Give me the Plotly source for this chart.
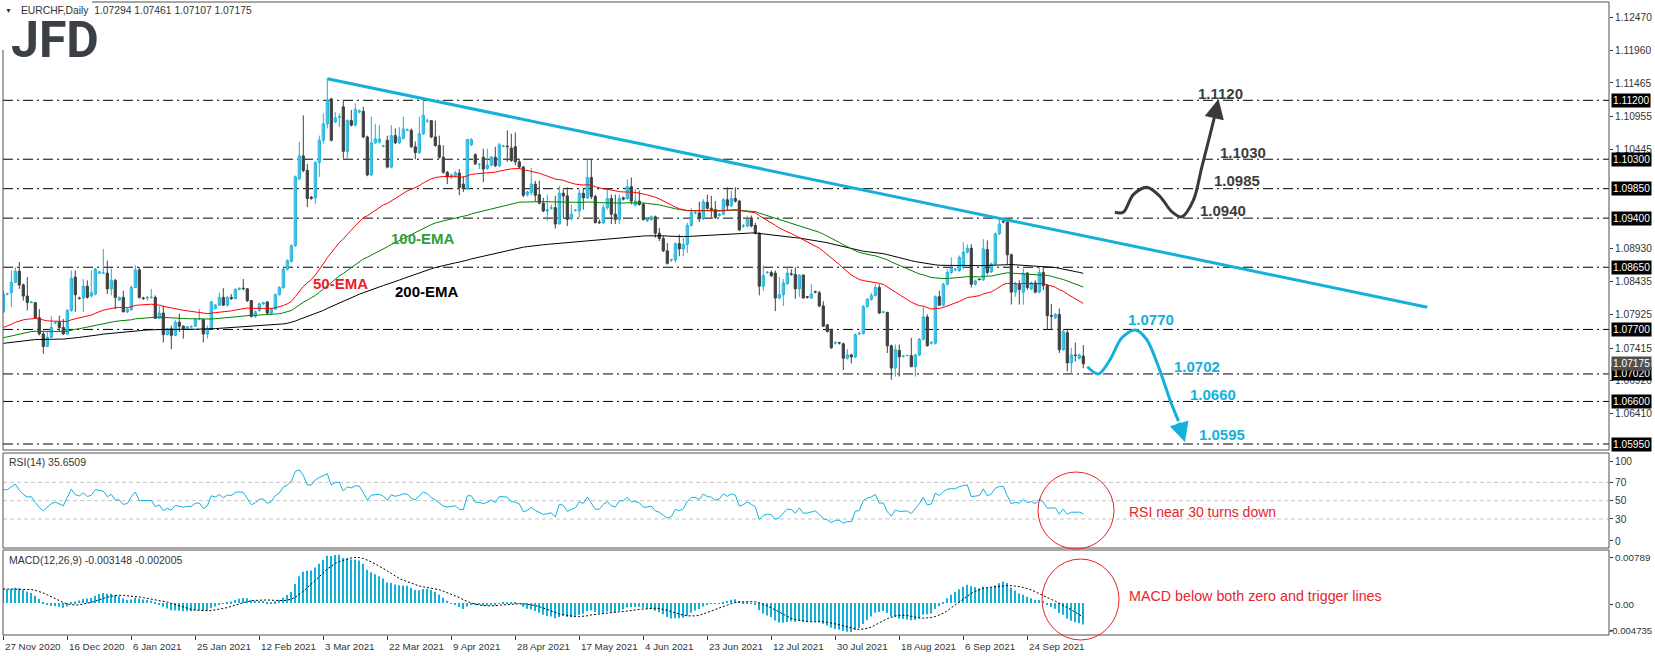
import plotly.graph_objects as go

W, H = 1655, 656

# ---------------- data ----------------
OPEN = [
 1.0797, 1.0824, 1.0826, 1.0842, 1.0859, 1.0838, 1.0821, 1.0811, 1.0811, 1.0788,
 1.0763, 1.0744, 1.0758, 1.0780, 1.0781, 1.0773, 1.0763, 1.0799, 1.0850, 1.0818,
 1.0818, 1.0836, 1.0821, 1.0824, 1.0856, 1.0856, 1.0856, 1.0832, 1.0845, 1.0815,
 1.0819, 1.0797, 1.0800, 1.0834, 1.0861, 1.0818, 1.0818, 1.0819, 1.0819, 1.0787,
 1.0795, 1.0762, 1.0771, 1.0761, 1.0781, 1.0775, 1.0772, 1.0774, 1.0775, 1.0786,
 1.0785, 1.0763, 1.0771, 1.0802, 1.0807, 1.0819, 1.0807, 1.0819, 1.0817, 1.0831,
 1.0833, 1.0832, 1.0814, 1.0790, 1.0799, 1.0809, 1.0812, 1.0795, 1.0801, 1.0823,
 1.0834, 1.0862, 1.0874, 1.0898, 1.1000, 1.1035, 1.1013, 1.0972, 1.0971, 1.1025,
 1.1059, 1.1084, 1.1122, 1.1087, 1.1094, 1.1110, 1.1042, 1.1089, 1.1082, 1.1102,
 1.1103, 1.1064, 1.1006, 1.1055, 1.1056, 1.1050, 1.1059, 1.1018, 1.1066, 1.1055,
 1.1062, 1.1074, 1.1074, 1.1049, 1.1040, 1.1069, 1.1088, 1.1089, 1.1064, 1.1051,
 1.1033, 1.1010, 1.1003, 1.1005, 1.1009, 1.0992, 1.0985, 1.1052, 1.1037, 1.1022,
 1.1033, 1.1016, 1.1021, 1.1033, 1.1020, 1.1050, 1.1050, 1.1047, 1.1049, 1.1026,
 1.1018, 1.0976, 1.0979, 1.0992, 1.0976, 1.0963, 1.0951, 1.0955, 1.0956, 1.0931,
 1.0978, 1.0974, 1.0939, 1.0952, 1.0951, 1.0978, 1.0971, 1.1002, 1.0973, 1.0934,
 1.0933, 1.0956, 1.0970, 1.0946, 1.0938, 1.0971, 1.0970, 1.0988, 1.0960, 1.0966,
 1.0961, 1.0936, 1.0938, 1.0942, 1.0917, 1.0909, 1.0890, 1.0876, 1.0876, 1.0901,
 1.0893, 1.0900, 1.0929, 1.0948, 1.0948, 1.0939, 1.0964, 1.0955, 1.0953, 1.0944,
 1.0946, 1.0968, 1.0959, 1.0970, 1.0966, 1.0928, 1.0928, 1.0938, 1.0929, 1.0917,
 1.0836, 1.0857, 1.0857, 1.0856, 1.0818, 1.0823, 1.0840, 1.0855, 1.0854, 1.0832,
 1.0853, 1.0820, 1.0818, 1.0828, 1.0826, 1.0806, 1.0777, 1.0770, 1.0749, 1.0750,
 1.0748, 1.0726, 1.0731, 1.0728, 1.0763, 1.0764, 1.0805, 1.0816, 1.0822, 1.0834,
 1.0796, 1.0796, 1.0745, 1.0711, 1.0738, 1.0729, 1.0730, 1.0730, 1.0713, 1.0731,
 1.0755, 1.0789, 1.0749, 1.0749, 1.0820, 1.0807, 1.0839, 1.0857, 1.0861, 1.0860,
 1.0865, 1.0888, 1.0894, 1.0839, 1.0847, 1.0846, 1.0892, 1.0858, 1.0870, 1.0916,
 1.0935, 1.0934, 1.0884, 1.0827, 1.0839, 1.0827, 1.0856, 1.0832, 1.0841, 1.0827,
 1.0857, 1.0837, 1.0791, 1.0788, 1.0793, 1.0739, 1.0765, 1.0719, 1.0731, 1.0726,
 1.07294]

HIGH = [
 1.0829, 1.0826, 1.0860, 1.0865, 1.0873, 1.0840, 1.0850, 1.0813, 1.0812, 1.0801,
 1.0768, 1.0766, 1.0790, 1.0782, 1.0791, 1.0786, 1.0801, 1.0860, 1.0860, 1.0820,
 1.0847, 1.0845, 1.0860, 1.0864, 1.0859, 1.0893, 1.0875, 1.0863, 1.0847, 1.0820,
 1.0829, 1.0803, 1.0837, 1.0868, 1.0865, 1.0820, 1.0821, 1.0832, 1.0822, 1.0806,
 1.0806, 1.0772, 1.0776, 1.0784, 1.0794, 1.0776, 1.0775, 1.0776, 1.0787, 1.0801,
 1.0786, 1.0776, 1.0814, 1.0809, 1.0826, 1.0833, 1.0821, 1.0824, 1.0833, 1.0834,
 1.0847, 1.0833, 1.0815, 1.0799, 1.0811, 1.0812, 1.0813, 1.0803, 1.0825, 1.0836,
 1.0864, 1.0877, 1.0900, 1.1005, 1.1056, 1.1097, 1.1023, 1.0974, 1.1027, 1.1066,
 1.1100, 1.1153, 1.1124, 1.1102, 1.1100, 1.1120, 1.1091, 1.1105, 1.1115, 1.1106,
 1.1110, 1.1066, 1.1095, 1.1084, 1.1082, 1.1052, 1.1066, 1.1082, 1.1077, 1.1079,
 1.1095, 1.1077, 1.1077, 1.1057, 1.1095, 1.1122, 1.1092, 1.1089, 1.1089, 1.1066,
 1.1051, 1.1012, 1.1008, 1.1012, 1.1015, 1.1004, 1.1061, 1.1062, 1.1039, 1.1024,
 1.1046, 1.1046, 1.1035, 1.1049, 1.1055, 1.1052, 1.1074, 1.1069, 1.1071, 1.1031,
 1.1020, 1.0982, 1.1017, 1.0997, 1.0997, 1.0971, 1.0976, 1.0961, 1.0974, 1.0989,
 1.0984, 1.0987, 1.0961, 1.0954, 1.0984, 1.0985, 1.1030, 1.1030, 1.0976, 1.0938,
 1.0961, 1.0985, 1.0976, 1.0976, 1.0976, 1.0973, 1.0999, 1.1002, 1.0984, 1.0982,
 1.0964, 1.0940, 1.0944, 1.0944, 1.0925, 1.0913, 1.0902, 1.0878, 1.0903, 1.0915,
 1.0910, 1.0933, 1.0955, 1.0951, 1.0965, 1.0969, 1.0976, 1.0974, 1.0966, 1.0948,
 1.0971, 1.0987, 1.0982, 1.0987, 1.0968, 1.0931, 1.0944, 1.0944, 1.0933, 1.0918,
 1.0868, 1.0859, 1.0860, 1.0860, 1.0850, 1.0847, 1.0865, 1.0862, 1.0865, 1.0854,
 1.0854, 1.0821, 1.0839, 1.0829, 1.0829, 1.0813, 1.0778, 1.0771, 1.0752, 1.0751,
 1.0750, 1.0740, 1.0733, 1.0764, 1.0767, 1.0807, 1.0818, 1.0826, 1.0839, 1.0839,
 1.0798, 1.0797, 1.0747, 1.0747, 1.0747, 1.0731, 1.0731, 1.0757, 1.0733, 1.0757,
 1.0805, 1.0793, 1.0752, 1.0822, 1.0829, 1.0841, 1.0862, 1.0880, 1.0864, 1.0883,
 1.0903, 1.0900, 1.0900, 1.0846, 1.0848, 1.0908, 1.0906, 1.0872, 1.0918, 1.0939,
 1.0940, 1.0936, 1.0886, 1.0843, 1.0845, 1.0863, 1.0858, 1.0843, 1.0845, 1.0865,
 1.0865, 1.0839, 1.0809, 1.0795, 1.0802, 1.0770, 1.0771, 1.0742, 1.0750, 1.0733,
 1.07461]

LOW = [
 1.0795, 1.0822, 1.0804, 1.0841, 1.0832, 1.0814, 1.0799, 1.0810, 1.0786, 1.0761,
 1.0733, 1.0743, 1.0757, 1.0778, 1.0766, 1.0762, 1.0762, 1.0797, 1.0797, 1.0816,
 1.0797, 1.0817, 1.0819, 1.0822, 1.0855, 1.0855, 1.0824, 1.0822, 1.0801, 1.0814,
 1.0796, 1.0795, 1.0799, 1.0833, 1.0817, 1.0815, 1.0814, 1.0817, 1.0786, 1.0786,
 1.0750, 1.0761, 1.0740, 1.0760, 1.0766, 1.0756, 1.0771, 1.0772, 1.0774, 1.0785,
 1.0750, 1.0756, 1.0770, 1.0801, 1.0806, 1.0806, 1.0805, 1.0815, 1.0816, 1.0830,
 1.0830, 1.0812, 1.0788, 1.0788, 1.0797, 1.0808, 1.0793, 1.0793, 1.0800, 1.0822,
 1.0832, 1.0860, 1.0872, 1.0896, 1.0998, 1.1010, 1.0957, 1.0968, 1.0962, 1.1003,
 1.1054, 1.1077, 1.1057, 1.1085, 1.1079, 1.1031, 1.1031, 1.1080, 1.1080, 1.1100,
 1.1062, 1.1004, 1.1004, 1.1053, 1.1054, 1.1048, 1.1016, 1.1016, 1.1053, 1.1053,
 1.1060, 1.1073, 1.1047, 1.1030, 1.1038, 1.1067, 1.1086, 1.1062, 1.1049, 1.1031,
 1.1008, 1.0992, 1.1000, 1.1002, 1.0975, 1.0980, 1.0983, 1.1050, 1.1021, 1.1015,
 1.0995, 1.1014, 1.1019, 1.1018, 1.1018, 1.1048, 1.1026, 1.1026, 1.1021, 1.1016,
 1.0972, 1.0973, 1.0975, 1.0966, 1.0961, 1.0949, 1.0936, 1.0953, 1.0924, 1.0931,
 1.0941, 1.0928, 1.0937, 1.0950, 1.0941, 1.0953, 1.0969, 1.0969, 1.0932, 1.0931,
 1.0931, 1.0953, 1.0931, 1.0931, 1.0931, 1.0967, 1.0968, 1.0961, 1.0958, 1.0959,
 1.0936, 1.0934, 1.0936, 1.0910, 1.0905, 1.0888, 1.0869, 1.0873, 1.0872, 1.0882,
 1.0882, 1.0887, 1.0927, 1.0946, 1.0934, 1.0937, 1.0953, 1.0941, 1.0939, 1.0942,
 1.0944, 1.0952, 1.0957, 1.0964, 1.0920, 1.0925, 1.0926, 1.0926, 1.0915, 1.0822,
 1.0829, 1.0855, 1.0850, 1.0798, 1.0816, 1.0806, 1.0838, 1.0852, 1.0817, 1.0820,
 1.0817, 1.0817, 1.0817, 1.0825, 1.0804, 1.0774, 1.0765, 1.0740, 1.0747, 1.0747,
 1.0708, 1.0724, 1.0718, 1.0726, 1.0761, 1.0762, 1.0803, 1.0814, 1.0820, 1.0794,
 1.0795, 1.0734, 1.0693, 1.0698, 1.0698, 1.0727, 1.0729, 1.0713, 1.0698, 1.0729,
 1.0753, 1.0744, 1.0747, 1.0747, 1.0806, 1.0805, 1.0837, 1.0855, 1.0859, 1.0858,
 1.0862, 1.0886, 1.0834, 1.0837, 1.0845, 1.0844, 1.0854, 1.0856, 1.0868, 1.0914,
 1.0932, 1.0870, 1.0808, 1.0820, 1.0808, 1.0808, 1.0830, 1.0830, 1.0825, 1.0825,
 1.0830, 1.0770, 1.0770, 1.0786, 1.0734, 1.0737, 1.0706, 1.0702, 1.0721, 1.0724,
 1.07107]

CLOSE = [
 1.0824, 1.0824, 1.0842, 1.0859, 1.0838, 1.0821, 1.0811, 1.0812, 1.0788, 1.0763,
 1.0744, 1.0758, 1.0773, 1.0780, 1.0773, 1.0763, 1.0799, 1.0848, 1.0823, 1.0817,
 1.0836, 1.0819, 1.0826, 1.0862, 1.0858, 1.0856, 1.0832, 1.0845, 1.0819, 1.0819,
 1.0797, 1.0801, 1.0834, 1.0861, 1.0819, 1.0817, 1.0819, 1.0819, 1.0787, 1.0795,
 1.0762, 1.0771, 1.0761, 1.0781, 1.0775, 1.0771, 1.0774, 1.0774, 1.0785, 1.0786,
 1.0763, 1.0771, 1.0812, 1.0807, 1.0819, 1.0807, 1.0819, 1.0817, 1.0831, 1.0833,
 1.0832, 1.0814, 1.0790, 1.0797, 1.0809, 1.0811, 1.0795, 1.0801, 1.0823, 1.0834,
 1.0862, 1.0875, 1.0898, 1.1003, 1.1035, 1.1013, 1.0970, 1.0970, 1.1025, 1.1059,
 1.1084, 1.1120, 1.1059, 1.1093, 1.1095, 1.1042, 1.1089, 1.1082, 1.1106, 1.1104,
 1.1064, 1.1006, 1.1055, 1.1061, 1.1061, 1.1050, 1.1018, 1.1066, 1.1055, 1.1064,
 1.1076, 1.1075, 1.1049, 1.1040, 1.1069, 1.1097, 1.1088, 1.1064, 1.1051, 1.1033,
 1.1010, 1.1003, 1.1006, 1.1009, 1.0987, 1.0985, 1.1060, 1.1060, 1.1023, 1.1022,
 1.1015, 1.1021, 1.1033, 1.1020, 1.1052, 1.1050, 1.1049, 1.1028, 1.1026, 1.1018,
 1.0975, 1.0980, 1.0992, 1.0975, 1.0963, 1.0951, 1.0953, 1.0956, 1.0931, 1.0978,
 1.0974, 1.0938, 1.0946, 1.0952, 1.0978, 1.0971, 1.1002, 1.0973, 1.0933, 1.0933,
 1.0956, 1.0970, 1.0946, 1.0938, 1.0970, 1.0969, 1.0988, 1.0966, 1.0966, 1.0961,
 1.0938, 1.0938, 1.0942, 1.0917, 1.0909, 1.0890, 1.0871, 1.0876, 1.0901, 1.0893,
 1.0900, 1.0929, 1.0948, 1.0948, 1.0939, 1.0965, 1.0955, 1.0953, 1.0941, 1.0946,
 1.0968, 1.0959, 1.0970, 1.0966, 1.0922, 1.0928, 1.0938, 1.0928, 1.0917, 1.0836,
 1.0852, 1.0857, 1.0852, 1.0818, 1.0823, 1.0841, 1.0856, 1.0854, 1.0832, 1.0853,
 1.0818, 1.0819, 1.0824, 1.0827, 1.0806, 1.0775, 1.0767, 1.0742, 1.0750, 1.0749,
 1.0726, 1.0731, 1.0728, 1.0762, 1.0764, 1.0805, 1.0816, 1.0822, 1.0834, 1.0795,
 1.0797, 1.0745, 1.0711, 1.0739, 1.0728, 1.0729, 1.0730, 1.0713, 1.0731, 1.0755,
 1.0789, 1.0745, 1.0750, 1.0820, 1.0807, 1.0839, 1.0857, 1.0863, 1.0862, 1.0880,
 1.0888, 1.0894, 1.0839, 1.0844, 1.0846, 1.0893, 1.0857, 1.0870, 1.0916, 1.0931,
 1.0934, 1.0884, 1.0827, 1.0839, 1.0831, 1.0856, 1.0834, 1.0841, 1.0827, 1.0857,
 1.0837, 1.0791, 1.0790, 1.0793, 1.0739, 1.0767, 1.0719, 1.0731, 1.0730, 1.0731,
 1.07175]

DATE_TICK_IDX = [0, 16, 32, 48, 64, 80, 96, 112, 128, 144, 160, 176, 192, 208, 224, 240, 256]
DATE_TICK_TEXT = ["27 Nov 2020", "16 Dec 2020", "6 Jan 2021", "25 Jan 2021", "12 Feb 2021",
                  "3 Mar 2021", "22 Mar 2021", "9 Apr 2021", "28 Apr 2021", "17 May 2021",
                  "4 Jun 2021", "23 Jun 2021", "12 Jul 2021", "30 Jul 2021", "18 Aug 2021",
                  "6 Sep 2021", "24 Sep 2021"]

PRICE_TICKS = [1.12470, 1.11960, 1.11465, 1.10955, 1.10445, 1.08930, 1.08435,
               1.07925, 1.07415, 1.06920, 1.06410]
LEVELS = [1.1120, 1.1030, 1.0985, 1.0940, 1.0865, 1.0770, 1.0702, 1.0660, 1.0595]

# indicator seeds (state before first visible bar)
EMA_SEEDS = {50: 1.0771, 100: 1.0756, 200: 1.0748}
RSI_SEED_GAIN, RSI_SEED_LOSS, PREV_CLOSE0 = 0.00085, 0.00065, 1.0797
EMA12_SEED, EMA26_SEED, SIGNAL_SEED = 1.0812, 1.0790, 0.0021

RSI_LEVELS = [70, 50, 30]
RSI_TICKVALS = [93.2, 70, 50, 30, 6]
RSI_TICKTEXT = ["100", "70", "50", "30", "0"]
MACD_RANGE = [-0.004735, 0.00789]
MACD_TICKVALS = [0.00671, -0.00027, -0.00413]
MACD_TICKTEXT = ["0.00789", "0.00", ""]
MACD_LOW_LABEL = "-0.004735"

TREND_X = [81, 356]
TREND_Y = [1.1153, 1.0804]

UP_PATH_X = [277.9, 280.0, 282.5, 285.9, 289.2, 292.1, 294.6, 297.5, 299.6, 301.3, 302.9]
UP_PATH_Y = [1.0949, 1.0949, 1.0976, 1.0987, 1.0973, 1.0950, 1.0942, 1.0967, 1.1017, 1.1058, 1.1097]
UP_TIP = (303.8, 1.1122)
DOWN_PATH_X = [271.0, 273.8, 276.7, 279.6, 283.0, 285.8, 288.8, 291.7, 293.8]
DOWN_PATH_Y = [1.0713, 1.0702, 1.0724, 1.0757, 1.0769, 1.0755, 1.0713, 1.0662, 1.0630]
DOWN_TIP = (295.4, 1.0598)

UP_LABELS = ["1.1120", "1.1030", "1.0985", "1.0940"]
UP_LABEL_X = [304.2, 309.9, 308.4, 304.9]
UP_LABEL_Y = [1.1130, 1.1041, 1.0998, 1.0952]
DOWN_LABELS = ["1.0770", "1.0702", "1.0660", "1.0595"]
DOWN_LABEL_X = [286.9, 298.4, 302.4, 304.7]
DOWN_LABEL_Y = [1.0785, 1.0714, 1.0670, 1.0610]

# ---------------- layout geometry (pixels) ----------------
X_L, X_R = 3, 1609
MAIN_T, MAIN_B = 2, 450
RSI_T, RSI_B = 453, 548
MACD_T, MACD_B = 550, 635
BAR0_PX, BAR_STEP = 3.3, 4.0
P_REF, Y_REF, P_PER_PX = 1.1120, 100.3, 0.00015275

CYAN = "#14b0da"
DARK = "#404040"
FONT = "Liberation Sans, Arial, sans-serif"


def px(x):
    return x / W


def py(y):
    return 1 - y / H


N = len(CLOSE)
IDX = list(range(N))


def ema(vals, n, seed):
    k = 2.0 / (n + 1)
    out, e = [], seed
    for v in vals:
        e = e + k * (v - e)
        out.append(e)
    return out


def rsi(vals, n):
    ag, al, prev = RSI_SEED_GAIN, RSI_SEED_LOSS, PREV_CLOSE0
    out = []
    for v in vals:
        d = v - prev
        prev = v
        ag = (ag * (n - 1) + max(d, 0)) / n
        al = (al * (n - 1) + max(-d, 0)) / n
        out.append(100.0 if al == 0 else 100 - 100 / (1 + ag / al))
    return out


e12 = ema(CLOSE, 12, EMA12_SEED)
e26 = ema(CLOSE, 26, EMA26_SEED)
macd = [a - b for a, b in zip(e12, e26)]
signal = []
for i in range(N):
    win = [macd[j] if j >= 0 else SIGNAL_SEED for j in range(i - 8, i + 1)]
    signal.append(sum(win) / 9)
rsi14 = rsi(CLOSE, 14)

fig = go.Figure()

# ---- candles: wicks ----
for bull, col in ((True, CYAN), (False, DARK)):
    xs, ys = [], []
    for i in IDX:
        if (CLOSE[i] >= OPEN[i]) == bull:
            xs += [i, i, None]
            ys += [LOW[i], HIGH[i], None]
    fig.add_trace(go.Scatter(x=xs, y=ys, mode="lines", line=dict(color=col, width=1),
                             hoverinfo="skip", xaxis="x", yaxis="y"))
# ---- candles: bodies ----
for bull, fill, col in ((True, "white", CYAN), (False, DARK, DARK)):
    bx, bb, bh = [], [], []
    for i in IDX:
        if (CLOSE[i] >= OPEN[i]) == bull:
            bx.append(i)
            bb.append(min(OPEN[i], CLOSE[i]))
            bh.append(max(abs(CLOSE[i] - OPEN[i]), 0.00004))
    fig.add_trace(go.Bar(x=bx, y=bh, base=bb, width=0.55,
                         marker=dict(color=fill, line=dict(color=col, width=1)),
                         hoverinfo="skip", xaxis="x", yaxis="y"))

# ---- EMAs ----
for n, col in ((200, "#000000"), (100, "#008000"), (50, "#ff0000")):
    fig.add_trace(go.Scatter(x=IDX, y=ema(CLOSE, n, EMA_SEEDS[n]), mode="lines",
                             line=dict(color=col, width=1), hoverinfo="skip",
                             xaxis="x", yaxis="y"))

# ---- trend line ----
fig.add_trace(go.Scatter(x=TREND_X, y=TREND_Y, mode="lines",
                         line=dict(color=CYAN, width=3), hoverinfo="skip",
                         xaxis="x", yaxis="y"))

# ---- scenario paths ----
fig.add_trace(go.Scatter(x=UP_PATH_X, y=UP_PATH_Y, mode="lines",
                         line=dict(color="#3a3a3a", width=3, shape="spline", smoothing=0.9),
                         hoverinfo="skip", xaxis="x", yaxis="y"))
fig.add_trace(go.Scatter(x=DOWN_PATH_X, y=DOWN_PATH_Y, mode="lines",
                         line=dict(color=CYAN, width=3, shape="spline", smoothing=0.9),
                         hoverinfo="skip", xaxis="x", yaxis="y"))

# ---- RSI ----
fig.add_trace(go.Scatter(x=IDX, y=rsi14, mode="lines", line=dict(color=CYAN, width=1),
                         hoverinfo="skip", xaxis="x", yaxis="y2"))

# ---- MACD ----
fig.add_trace(go.Bar(x=IDX, y=macd, width=0.28, marker=dict(color=CYAN, line=dict(width=0)),
                     hoverinfo="skip", xaxis="x", yaxis="y3"))
fig.add_trace(go.Scatter(x=IDX, y=signal, mode="lines",
                         line=dict(color="#000000", width=1, dash="2px,2px"),
                         hoverinfo="skip", xaxis="x", yaxis="y3"))

shapes = []
# level lines
for lv in LEVELS:
    shapes.append(dict(type="line", xref="paper", yref="y", x0=px(X_L), x1=px(X_R),
                       y0=lv, y1=lv, layer="below",
                       line=dict(color="#000000", width=1, dash="10px,4px,2px,4px")))
for lv in RSI_LEVELS:
    shapes.append(dict(type="line", xref="paper", yref="y2", x0=px(X_L), x1=px(X_R),
                       y0=lv, y1=lv, layer="below",
                       line=dict(color="#c4c4c4", width=1, dash="4px,3px")))
# panel frames
for t, b in ((MAIN_T, MAIN_B), (RSI_T, RSI_B), (MACD_T, MACD_B)):
    shapes.append(dict(type="rect", xref="paper", yref="paper", x0=px(X_L), x1=px(X_R),
                       y0=py(b), y1=py(t), line=dict(color="#505050", width=1),
                       fillcolor="rgba(0,0,0,0)", layer="above"))
# white backing of the logo (hides the frame corner like the original)
shapes.append(dict(type="rect", xref="paper", yref="paper", x0=0, x1=px(92),
                   y0=py(50), y1=1, line=dict(width=0), fillcolor="white", layer="above"))
# red circles
shapes.append(dict(type="circle", xref="paper", yref="paper", x0=px(1038), x1=px(1114),
                   y0=py(549), y1=py(472), line=dict(color="#e3262d", width=1), layer="above"))
shapes.append(dict(type="circle", xref="paper", yref="paper", x0=px(1042), x1=px(1119),
                   y0=py(640), y1=py(559), line=dict(color="#e3262d", width=1), layer="above"))

ann = []


def note(**kw):
    kw.setdefault("showarrow", False)
    kw.setdefault("xanchor", "center")
    kw.setdefault("yanchor", "middle")
    ann.append(kw)


# arrowheads
ann.append(dict(x=UP_TIP[0], y=UP_TIP[1], ax=UP_PATH_X[-1], ay=UP_PATH_Y[-1],
                xref="x", yref="y", axref="x", ayref="y", text="", showarrow=True,
                arrowhead=2, arrowsize=1.3, arrowwidth=3, arrowcolor="#3a3a3a"))
ann.append(dict(x=DOWN_TIP[0], y=DOWN_TIP[1], ax=DOWN_PATH_X[-1], ay=DOWN_PATH_Y[-1],
                xref="x", yref="y", axref="x", ayref="y", text="", showarrow=True,
                arrowhead=2, arrowsize=1.3, arrowwidth=3, arrowcolor=CYAN))
for t, x, y in zip(UP_LABELS, UP_LABEL_X, UP_LABEL_Y):
    note(x=x, y=y, xref="x", yref="y", text="<b>%s</b>" % t,
         font=dict(family=FONT, size=15, color="#3d3d3d"))
for t, x, y in zip(DOWN_LABELS, DOWN_LABEL_X, DOWN_LABEL_Y):
    note(x=x, y=y, xref="x", yref="y", text="<b>%s</b>" % t,
         font=dict(family=FONT, size=15, color=CYAN))
# EMA labels
for t, x, y, c in (("50-EMA", 340, 284, "#e8212a"), ("100-EMA", 423, 239, "#2f9e35"),
                   ("200-EMA", 427, 292, "#000000")):
    note(x=px(x), y=py(y), xref="paper", yref="paper", text="<b>%s</b>" % t,
         font=dict(family=FONT, size=15, color=c))
# right axis level boxes
for lv in LEVELS:
    note(x=px(1611), y=lv, xref="paper", yref="y", xanchor="left",
         text="%.5f" % lv, bgcolor="#000000", borderpad=1,
         font=dict(family=FONT, size=10.2, color="#ffffff"))
note(x=px(1611), y=CLOSE[-1], xref="paper", yref="y", xanchor="left",
     text="%.5f" % CLOSE[-1], bgcolor="#4f4f4f", borderpad=1,
     font=dict(family=FONT, size=10.2, color="#ffffff"))
# lowest MACD scale label (right-aligned so it stays inside the page)
note(x=1, y=MACD_TICKVALS[2], xref="paper", yref="y3", xanchor="right", xshift=-1,
     text=MACD_LOW_LABEL, font=dict(family=FONT, size=9.6, color="#333333"))
# date labels
for i, t in zip(DATE_TICK_IDX, DATE_TICK_TEXT):
    note(x=i, y=py(646), xref="x", yref="paper", xanchor="left", xshift=0,
         text=t, font=dict(family=FONT, size=9.8, color="#333333"))
# headers
note(x=px(3), y=py(10), xref="paper", yref="paper", xanchor="left", text="▼",
     font=dict(family=FONT, size=7, color="#333333"))
note(x=px(19), y=py(10), xref="paper", yref="paper", xanchor="left",
     text="EURCHF,Daily  %.5f %.5f %.5f %.5f" % (OPEN[-1], HIGH[-1], LOW[-1], CLOSE[-1]),
     font=dict(family=FONT, size=10.3, color="#333333"))
note(x=px(9), y=py(40), xref="paper", yref="paper", xanchor="left",
     text="<b>JFD</b>",
     font=dict(family="Liberation Sans Narrow, Roboto, sans-serif", size=50, color="#3b3f46"))
note(x=px(7), y=py(462), xref="paper", yref="paper", xanchor="left",
     text="RSI(14) 35.6509", font=dict(family=FONT, size=10.5, color="#333333"))
note(x=px(7), y=py(560), xref="paper", yref="paper", xanchor="left",
     text="MACD(12,26,9) -0.003148 -0.002005",
     font=dict(family=FONT, size=10.5, color="#333333"))
note(x=px(1127), y=py(512), xref="paper", yref="paper", xanchor="left",
     text="RSI near 30 turns down", font=dict(family=FONT, size=14, color="#e3262d"))
note(x=px(1127), y=py(596), xref="paper", yref="paper", xanchor="left",
     text="MACD below both zero and trigger lines",
     font=dict(family=FONT, size=14.3, color="#e3262d"))

main_range = [P_REF - (MAIN_B - Y_REF) * P_PER_PX, P_REF + (Y_REF - MAIN_T) * P_PER_PX]
x_range = [(X_L - BAR0_PX) / BAR_STEP, (X_R - BAR0_PX) / BAR_STEP]


def ytick(size):
    return dict(ticks="outside", ticklen=3, tickcolor="#333333", side="right", anchor="x",
                showgrid=False, zeroline=False, showline=False, automargin=False,
                tickfont=dict(family=FONT, size=size, color="#333333"), fixedrange=True)


fig.update_layout(
    template="none",
    width=W, height=H, margin=dict(l=0, r=0, t=0, b=0),
    paper_bgcolor="white", plot_bgcolor="white",
    showlegend=False, barmode="overlay", hovermode=False,
    shapes=shapes, annotations=ann,
    xaxis=dict(domain=[px(X_L), px(X_R)], range=x_range, anchor="y3",
               tickvals=DATE_TICK_IDX, ticks="outside", ticklen=4, tickcolor="#333333",
               showticklabels=False, showgrid=False, zeroline=False, showline=False,
               automargin=False, fixedrange=True),
    yaxis=dict(domain=[py(MAIN_B), py(MAIN_T)], range=main_range,
               tickvals=PRICE_TICKS, ticktext=["%.5f" % v for v in PRICE_TICKS], **ytick(10.2)),
    yaxis2=dict(domain=[py(RSI_B), py(RSI_T)], range=[-1.64, 101.96],
                tickvals=RSI_TICKVALS, ticktext=RSI_TICKTEXT, **ytick(10.2)),
    yaxis3=dict(domain=[py(MACD_B), py(MACD_T)], range=MACD_RANGE,
                tickvals=MACD_TICKVALS, ticktext=MACD_TICKTEXT, **ytick(9.8)),
)

fig.write_html("out.html")
